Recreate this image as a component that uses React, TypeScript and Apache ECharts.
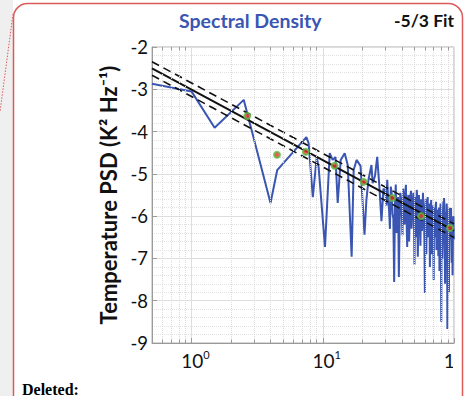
import React, { useEffect, useRef } from 'react';
import * as echarts from 'echarts';

// Spectrum (frequency in Hz, log10 PSD)
const freq = [
  0.5, 1.0, 1.5, 2.5, 4.0, 4.5, 7.5, 7.8, 8.4, 9.0, 9.3, 10.4, 11.3, 11.9, 12.5, 13.0, 13.7, 14.7, 15.5, 16.6,
  17.2, 18.1, 19.4, 20.8, 21.5, 22.3, 23.5,
  24, 25, 26, 27, 28, 29,
  30, 30.5, 31, 31.5, 32, 32.5, 33, 33.5, 34, 34.5, 35, 35.5, 36, 36.5, 37, 37.5, 38, 38.5, 39, 39.5,
  40, 40.5, 41, 41.5, 42, 42.5, 43, 43.5, 44, 44.5, 45, 45.5, 46, 46.5, 47, 47.5, 48, 48.5, 49, 49.5,
  50, 50.5, 51, 51.5, 52, 52.5, 53, 53.5, 54, 54.5, 55, 55.5, 56, 56.5, 57, 57.5, 58, 58.5, 59, 59.5,
  60, 60.5, 61, 61.5, 62, 62.5, 63, 63.5, 64, 64.5, 65, 65.5, 66, 66.5, 67, 67.5, 68, 68.5, 69, 69.5,
  70, 70.5, 71, 71.5, 72, 72.5, 73, 73.5, 74, 74.5, 75, 75.5, 76, 76.5, 77, 77.5, 78, 78.5, 79, 79.5,
  80, 80.5, 81, 81.5, 82, 82.5, 83, 83.5, 84, 84.5, 85, 85.5, 86, 86.5, 87, 87.5, 88, 88.5, 89, 89.5,
  90, 90.5, 91, 91.5, 92, 92.5, 93, 93.5, 94, 94.5, 95, 95.5, 96, 96.5, 97, 97.5, 98, 98.5, 99, 99.5, 100,
];
const psd = [
  -2.87, -3.05, -3.91, -3.25, -5.69, -4.91, -4.13, -4.27, -5.55, -4.6, -4.84, -6.73, -4.51, -4.67, -4.6, -5.69,
  -4.67, -4.51, -4.79, -6.96, -4.91, -4.67, -4.81, -6.44, -5.62, -5.14, -4.79,
  -5.22, -5.05, -4.6, -5.3, -6.12, -5.35,
  -5.4, -5.75, -5.14, -5.6, -5.85, -6.3, -5.3, -5.45, -5.95, -6.05, -7.56, -5.7, -5.25, -6.4, -5.7, -5.55, -7.44, -6.2, -5.45, -5.6,
  -5.9, -6.45, -5.35, -5.65, -6.2, -5.5, -5.26, -6.1, -6.73, -5.6, -5.5, -6.6, -6.05, -5.55, -5.4, -6.3, -5.95, -5.7, -5.45, -6.0,
  -7.15, -5.65, -5.55, -6.5, -5.38, -5.6, -6.96, -6.2, -5.5, -5.75, -6.1, -6.7, -5.6, -5.7, -6.35, -6.1, -5.45, -5.85, -6.0, -6.6,
  -7.82, -5.75, -5.6, -6.9, -6.2, -5.8, -5.55, -6.2, -6.5, -5.75, -5.7, -7.2, -6.05, -5.85, -5.62, -6.4, -6.9, -5.8, -5.75, -6.7,
  -7.51, -5.9, -5.8, -6.5, -6.3, -5.75, -5.66, -6.8, -6.5, -5.95, -5.85, -6.35, -6.95, -5.85, -5.8, -7.3, -6.4, -5.95, -5.7, -6.6,
  -8.5, -5.9, -5.9, -7.0, -6.6, -5.85, -5.65, -6.45, -5.57, -5.75, -6.8, -7.6, -5.9, -6.0, -6.5, -6.55, -5.7, -5.9, -8.67, -6.9,
  -6.0, -6.05, -6.7, -7.8, -5.8, -5.95, -6.4, -6.55, -6.05, -5.9, -5.81, -6.65, -7.1, -6.1, -6.2, -7.4, -6.7, -6.05, -6.0, -6.5, -6.55,
];

// Bin-averaged points
const binFreq = [2.66, 4.48, 7.43, 12.3, 20.5, 33.9, 56.2, 93.3];
const binPsd = [-3.63, -4.55, -4.48, -4.81, -5.19, -5.57, -6.0, -6.28];

// -5/3 fit
const fitSlope = -5 / 3;
const fitIntercept = -3.01;
const fitBand = 0.16;
const fitRange = [0.5, 100];

// Log-axis minor grid positions
const minorFreq = [0.6, 0.7, 0.8, 0.9, 2, 3, 4, 5, 6, 7, 8, 9, 20, 30, 40, 50, 60, 70, 80, 90];

const Y_MIN = -9;
const Y_MAX = -2;

export default function App() {
  const ref = useRef<HTMLDivElement>(null);

  useEffect(() => {
    if (!ref.current) return;
    const chart = echarts.init(ref.current, null, { renderer: 'svg' });
    const font = 'Lato';
    const fitLine = (off: number) =>
      fitRange.map((f) => [f, fitIntercept + off + fitSlope * Math.log10(f)]);

    const tickLen = 0.08;
    const minorTickSegs: any[] = [];
    minorFreq.forEach((f) => {
      minorTickSegs.push([{ coord: [f, Y_MIN] }, { coord: [f, Y_MIN + tickLen] }]);
      minorTickSegs.push([{ coord: [f, Y_MAX] }, { coord: [f, Y_MAX - tickLen] }]);
    });

    chart.setOption({
      animation: false,
      backgroundColor: '#ffffff',
      title: [
        {
          text: 'Spectral Density',
          left: 174,
          top: 5,
          textStyle: { color: '#3a56b2', fontSize: 19.5, fontWeight: 'bold', fontFamily: font },
        },
        {
          text: '-5/3 Fit',
          left: 389,
          top: 6,
          textStyle: { color: '#111111', fontSize: 17.5, fontWeight: 'bold', fontFamily: font },
        },
      ],
      grid: {
        left: 152,
        top: 47,
        width: 302,
        height: 296,
        outerBoundsMode: 'none',
        containLabel: false,
        show: true,
        borderColor: '#b0b0b0',
        borderWidth: 1,
        backgroundColor: 'transparent',
      },
      xAxis: {
        type: 'log',
        logBase: 10,
        min: 0.5,
        max: 100,
        axisLine: { show: true, lineStyle: { color: '#9a9a9a', width: 1 } },
        axisTick: { show: true, inside: true, length: 5, lineStyle: { color: '#9a9a9a' } },
        splitLine: { show: true, lineStyle: { color: '#dedede', width: 1 } },
        axisLabel: {
          showMinLabel: false,
          showMaxLabel: true,
          margin: 6,
          padding: [0, 0, 0, 8],
          color: '#111',
          fontFamily: font,
          formatter: (v: number) => {
            const l = Math.log10(v);
            const e = Math.round(l);
            if (Math.abs(l - e) > 1e-6) return '';
            return '{b|10}{s|' + e + '}';
          },
          rich: {
            b: { fontSize: 19, fontFamily: font, color: '#111', lineHeight: 22 },
            s: { fontSize: 11, fontFamily: font, color: '#111', verticalAlign: 'top', lineHeight: 22, padding: [0, 0, 8, 0] },
          },
        },
      },
      yAxis: {
        type: 'value',
        min: Y_MIN,
        max: Y_MAX,
        interval: 1,
        name: 'Temperature PSD (K² Hz⁻¹)',
        nameLocation: 'middle',
        nameRotate: 90,
        nameGap: 29,
        nameTextStyle: { fontSize: 22, fontWeight: 'bold', color: '#111', fontFamily: font },
        axisLine: { show: true, lineStyle: { color: '#9a9a9a', width: 1 } },
        axisTick: { show: true, inside: true, length: 5, lineStyle: { color: '#9a9a9a' } },
        axisLabel: { fontSize: 18.5, color: '#111', fontFamily: font, margin: 4 },
        splitLine: { show: true, lineStyle: { color: '#dedede', width: 1 } },
        minorTick: { show: false, splitNumber: 5 },
        minorSplitLine: { show: true, lineStyle: { color: '#e2e2e2', type: 'dotted', width: 1 } },
      },
      series: [
        {
          type: 'line',
          data: [],
          silent: true,
          z: 1,
          markLine: {
            silent: true,
            symbol: 'none',
            label: { show: false },
            animation: false,
            lineStyle: { color: '#dadada', type: 'dotted', width: 1 },
            data: minorFreq.map((f) => ({ xAxis: f })),
          },
        },
        {
          type: 'line',
          data: [],
          silent: true,
          z: 1,
          markLine: {
            silent: true,
            symbol: 'none',
            label: { show: false },
            animation: false,
            lineStyle: { color: '#9a9a9a', type: 'solid', width: 1 },
            data: minorTickSegs,
          },
        },
        {
          name: 'Spectral Density',
          type: 'line',
          data: freq.map((f, i) => [f, psd[i]]),
          showSymbol: false,
          lineStyle: { color: '#3a56b2', width: 2 },
          z: 2,
        },
        {
          type: 'line',
          data: fitLine(fitBand),
          showSymbol: false,
          lineStyle: { color: '#111', width: 1.6, type: [8, 5] },
          z: 3,
        },
        {
          type: 'line',
          data: fitLine(-fitBand),
          showSymbol: false,
          lineStyle: { color: '#111', width: 1.6, type: [8, 5] },
          z: 3,
        },
        {
          name: '-5/3 Fit',
          type: 'line',
          data: fitLine(0),
          showSymbol: false,
          lineStyle: { color: '#111', width: 2 },
          z: 4,
        },
        {
          type: 'scatter',
          data: binFreq.map((f, i) => [f, binPsd[i]]),
          symbol: 'circle',
          symbolSize: 6,
          itemStyle: { color: '#e8352b', borderColor: '#5cbf4a', borderWidth: 2 },
          z: 5,
        },
      ],
      graphic: [
        {
          type: 'rect',
          z: 100,
          shape: { x: 0, y: 0, width: 13, height: 396 },
          style: { fill: '#efefef' },
        },
        {
          type: 'rect',
          z: 100,
          shape: { x: 453, y: 346, width: 18, height: 40 },
          style: { fill: '#ffffff' },
        },
        {
          type: 'rect',
          z: 101,
          shape: { x: 13.5, y: 3.5, width: 449, height: 430, r: 14 },
          style: { fill: 'none', stroke: '#dc5a5a', lineWidth: 1.5 },
        },
        {
          type: 'line',
          z: 101,
          shape: { x1: 13, y1: 14, x2: 0, y2: 112 },
          style: { stroke: '#dc5a5a', lineWidth: 1, lineDash: [1.5, 1.5] },
        },
        {
          type: 'text',
          z: 101,
          left: 22,
          top: 381,
          style: {
            text: 'Deleted:',
            fill: '#000',
            font: 'bold 16px "Liberation Serif"',
          },
        },
      ],
    });
    return () => chart.dispose();
  }, []);

  return (
    <div
      ref={ref}
      style={{ position: 'absolute', left: 0, top: 0, width: 471, height: 396 }}
    />
  );
}
